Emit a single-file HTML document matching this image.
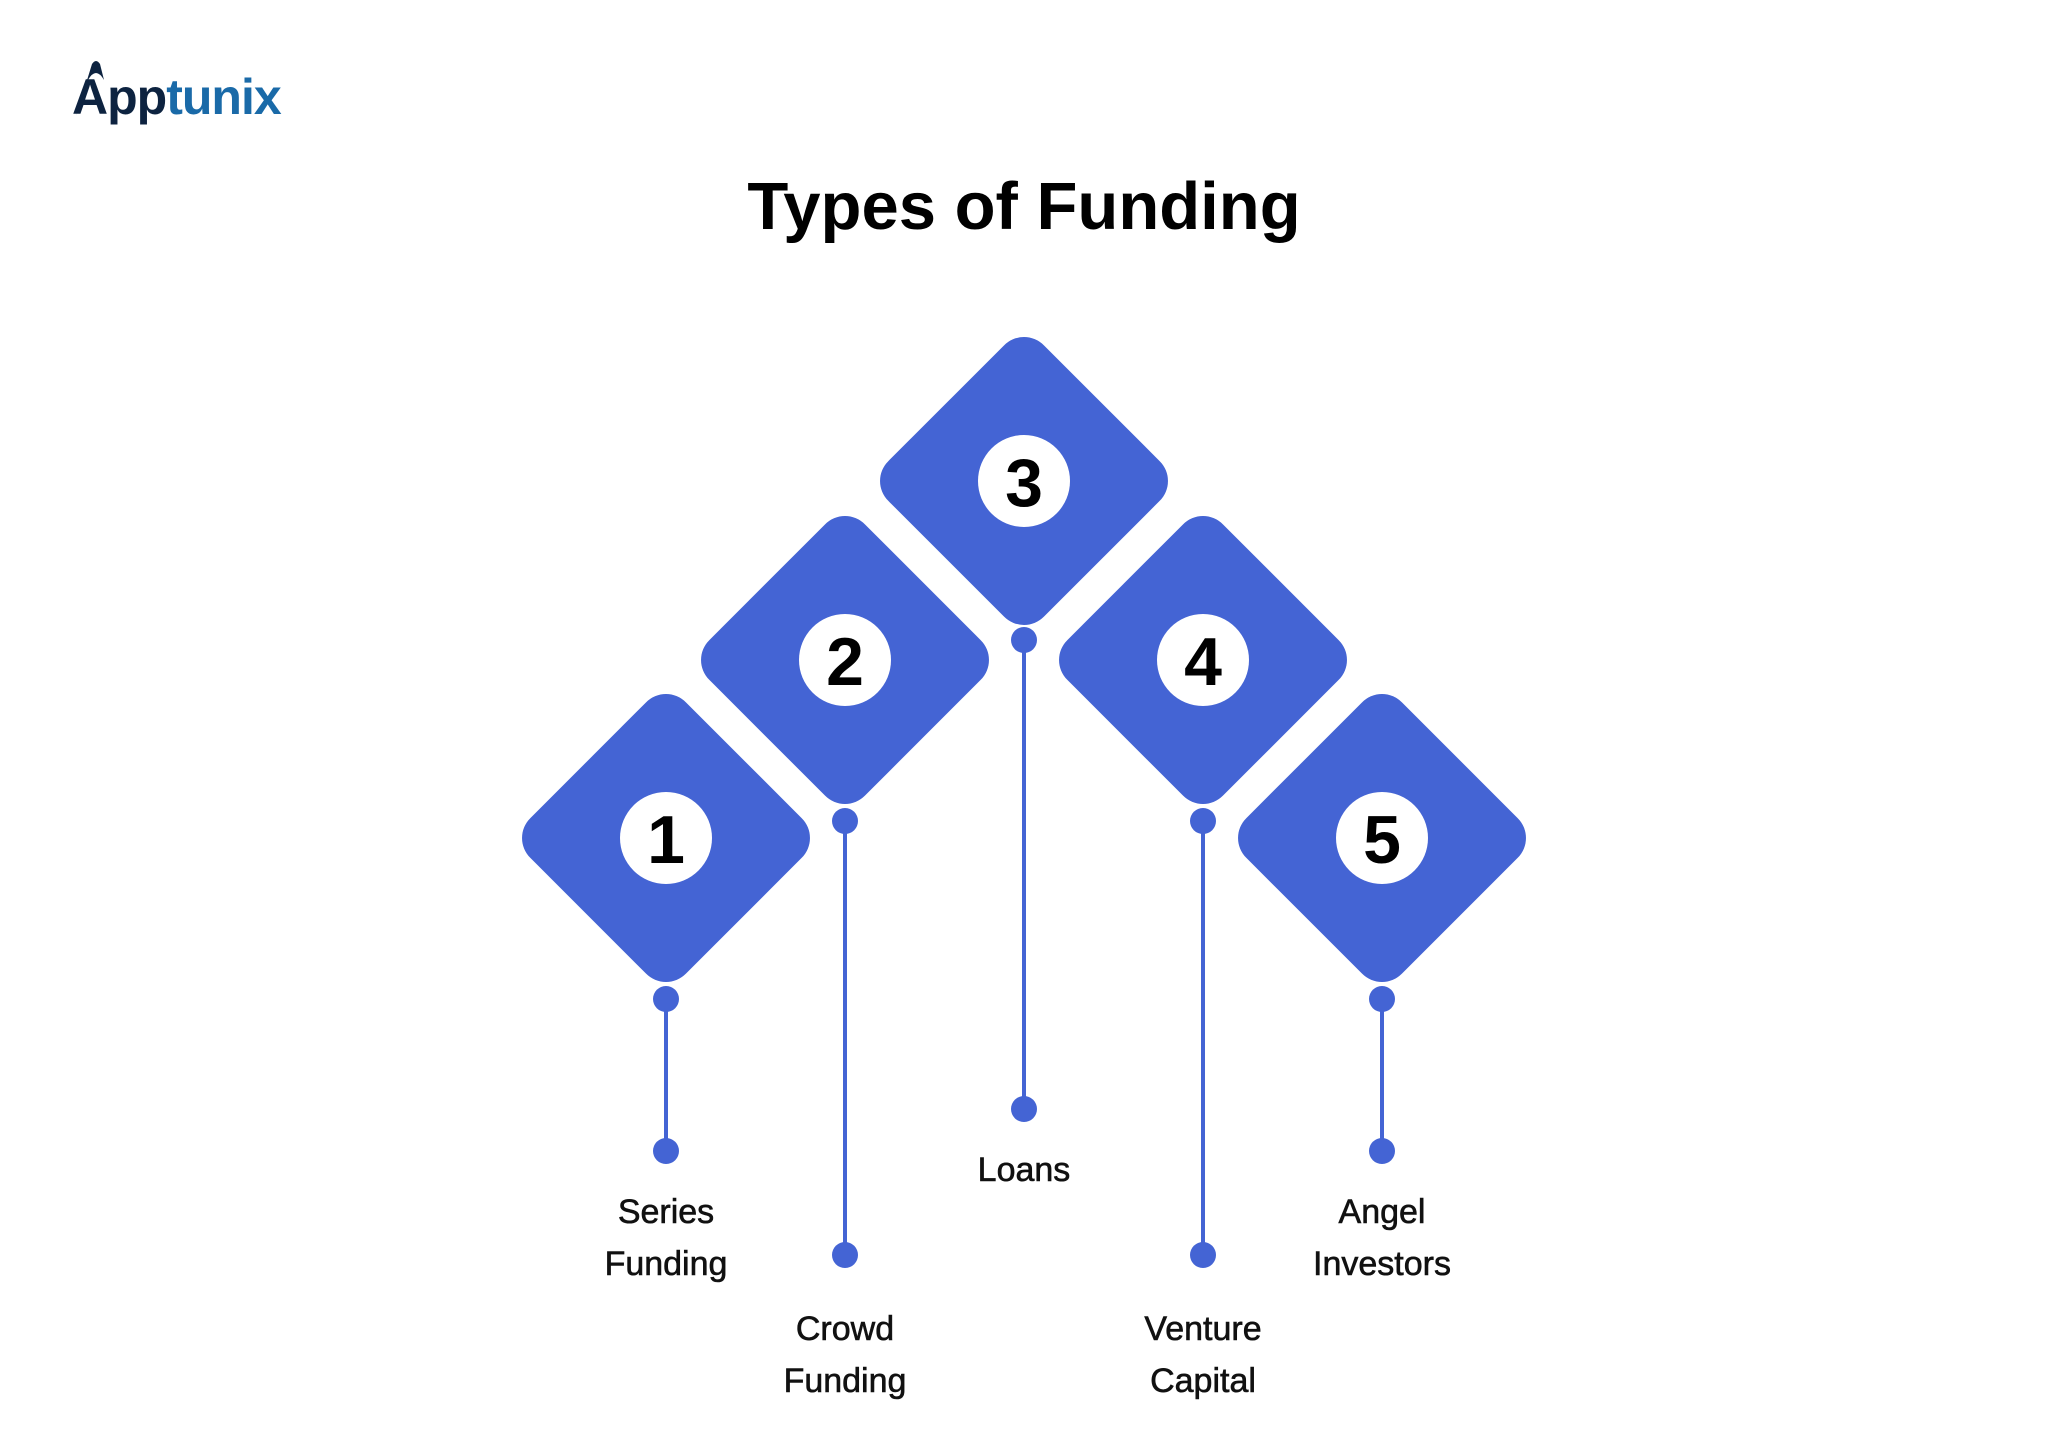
<!DOCTYPE html>
<html><head><meta charset="utf-8"><style>
html,body{margin:0;padding:0;background:#fff}
svg{display:block}
</style></head><body>
<svg width="2048" height="1446" viewBox="0 0 2048 1446" xmlns="http://www.w3.org/2000/svg">
<defs>
<g id="d"><rect x="-110" y="-110" width="220" height="220" rx="28" ry="28" fill="#4464d4" transform="rotate(45)"/><circle r="46" fill="#fff"/></g>
</defs>
<!-- logo -->
<path d="M76 116 L92 64 Q96 58 100 64 L104 80 Q96 66 88 80 Z" fill="#0d2340"/>
<text x="72" y="114" font-family="Liberation Sans, sans-serif" font-weight="bold" font-size="50" fill="#0d2340" letter-spacing="-1">App<tspan fill="#1a6aa8">tunix</tspan></text>
<!-- title -->
<text x="1024" y="229" text-anchor="middle" font-family="Liberation Sans, sans-serif" font-weight="bold" font-size="67" fill="#000">Types of Funding</text>
<g stroke="#4464d4" stroke-width="4">
<line x1="666" y1="999" x2="666" y2="1151"/>
<line x1="845" y1="821" x2="845" y2="1255"/>
<line x1="1024" y1="640" x2="1024" y2="1109"/>
<line x1="1203" y1="821" x2="1203" y2="1255"/>
<line x1="1382" y1="999" x2="1382" y2="1151"/>
</g>
<g fill="#4464d4">
<circle cx="666" cy="999" r="13"/><circle cx="666" cy="1151" r="13"/>
<circle cx="845" cy="821" r="13"/><circle cx="845" cy="1255" r="13"/>
<circle cx="1024" cy="640" r="13"/><circle cx="1024" cy="1109" r="13"/>
<circle cx="1203" cy="821" r="13"/><circle cx="1203" cy="1255" r="13"/>
<circle cx="1382" cy="999" r="13"/><circle cx="1382" cy="1151" r="13"/>
</g>
<use href="#d" x="666" y="838"/>
<use href="#d" x="845" y="660"/>
<use href="#d" x="1024" y="481"/>
<use href="#d" x="1203" y="660"/>
<use href="#d" x="1382" y="838"/>
<g font-family="Liberation Sans, sans-serif" font-weight="bold" font-size="68" text-anchor="middle" fill="#000">
<text x="666" y="863">1</text>
<text x="845" y="685">2</text>
<text x="1024" y="506">3</text>
<text x="1203" y="685">4</text>
<text x="1382" y="863">5</text>
</g>
<g font-family="Liberation Sans, sans-serif" font-size="34" text-anchor="middle" fill="#111" stroke="#111" stroke-width="0.6">
<text x="666" y="1223">Series</text><text x="666" y="1275">Funding</text>
<text x="845" y="1340">Crowd</text><text x="845" y="1392">Funding</text>
<text x="1024" y="1181">Loans</text>
<text x="1203" y="1340">Venture</text><text x="1203" y="1392">Capital</text>
<text x="1382" y="1223">Angel</text><text x="1382" y="1275">Investors</text>
</g>
</svg>
</body></html>
